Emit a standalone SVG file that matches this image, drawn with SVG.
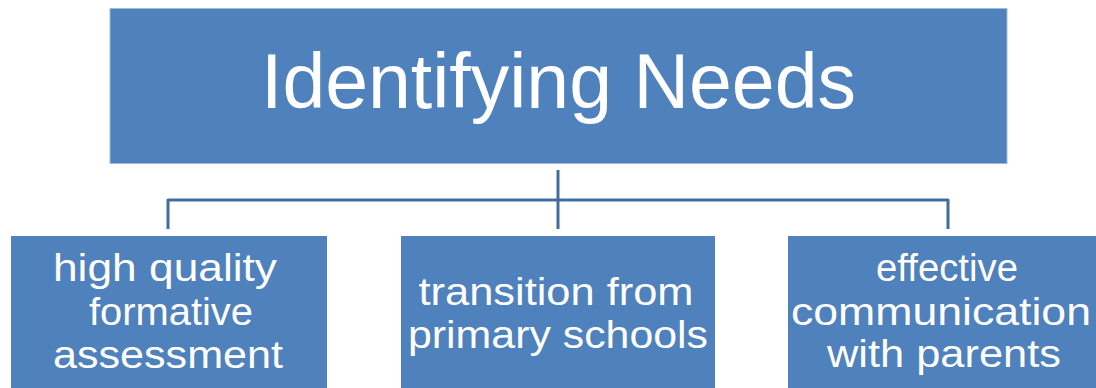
<svg xmlns="http://www.w3.org/2000/svg" width="1096" height="388" viewBox="0 0 1096 388">
  <style>
    .box { fill: #4F81BD; }
    .top { stroke: #9DB9DC; stroke-width: 1; }
    .lbl { fill: #FFFFFF; font-family: "Liberation Sans", Arial, sans-serif; text-anchor: middle; }
    .title { font-size: 77px; }
    .sub { font-size: 38px; }
    .conn { fill: none; stroke: #3F6E9E; stroke-width: 3; stroke-linejoin: round; }
  </style>
  <rect width="1096" height="388" fill="#FFFFFF"/>
  <g id="connectors">
    <line class="conn" x1="558" y1="170" x2="558" y2="229"/>
    <path class="conn" d="M168 229 V200 H948 V229"/>
  </g>
  <g id="node-identifying-needs">
    <rect class="box top" x="110" y="8.5" width="897" height="155"/>
    <text class="lbl title" x="558.5" y="108">Identifying Needs</text>
  </g>
  <g id="node-assessment">
    <rect class="box" x="11" y="236" width="316" height="160"/>
    <text class="lbl sub" x="165" y="281" textLength="224" lengthAdjust="spacingAndGlyphs">high quality</text>
    <text class="lbl sub" x="171" y="325" textLength="164" lengthAdjust="spacingAndGlyphs">formative</text>
    <text class="lbl sub" x="168" y="368" textLength="230" lengthAdjust="spacingAndGlyphs">assessment</text>
  </g>
  <g id="node-transition">
    <rect class="box" x="401" y="236" width="314" height="160"/>
    <text class="lbl sub" x="556" y="305" textLength="275" lengthAdjust="spacingAndGlyphs">transition from</text>
    <text class="lbl sub" x="558" y="348" textLength="300" lengthAdjust="spacingAndGlyphs">primary schools</text>
  </g>
  <g id="node-communication">
    <rect class="box" x="788" y="236" width="320" height="160"/>
    <text class="lbl sub" x="947" y="281" textLength="142" lengthAdjust="spacingAndGlyphs">effective</text>
    <text class="lbl sub" x="941" y="325" textLength="300" lengthAdjust="spacingAndGlyphs">communication</text>
    <text class="lbl sub" x="944" y="367" textLength="234" lengthAdjust="spacingAndGlyphs">with parents</text>
  </g>
</svg>
